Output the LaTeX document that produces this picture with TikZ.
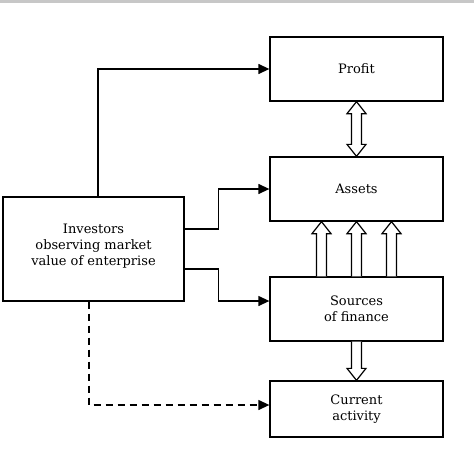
\documentclass[tikz,border=0pt]{standalone}
\usepackage{fontspec}
\setmainfont{DejaVu Serif}
\usetikzlibrary{arrows.meta,calc}
\tikzset{
  box/.style={draw, line width=1.3pt, fill=white, align=center, font=\fontsize{13}{16}\selectfont, inner sep=0pt},
  conn/.style={line width=1.3pt, -{Triangle[length=11pt,width=10pt]}},
  dashconn/.style={conn, dash pattern=on 7pt off 5pt},
  hollow/.style={draw, line width=1.2pt, fill=white, line join=miter}
}
\newcommand\hollowup[3]{% #1 tail anchor, #2 tip anchor, #3 dx
  \draw[hollow] ($(#1)+(#3-5,0)$) -- ($(#2)+(#3-5,12)$) -- ($(#2)+(#3-9.5,12)$) -- ($(#2)+(#3,0)$)
     -- ($(#2)+(#3+9.5,12)$) -- ($(#2)+(#3+5,12)$) -- ($(#1)+(#3+5,0)$);}
\newcommand\hollowdown[3]{% #1 tail anchor, #2 tip anchor, #3 dx
  \draw[hollow] ($(#1)+(#3-5,0)$) -- ($(#2)+(#3-5,-12)$) -- ($(#2)+(#3-9.5,-12)$) -- ($(#2)+(#3,0)$)
     -- ($(#2)+(#3+9.5,-12)$) -- ($(#2)+(#3+5,-12)$) -- ($(#1)+(#3+5,0)$);}
\begin{document}
\begin{tikzpicture}[x=1pt,y=-1pt]
\useasboundingbox (0,0) rectangle (474,474);
\fill[white] (0,0) rectangle (474,474);
\fill[black!22] (0,0) rectangle (474,2.5);
\node[box, minimum width=173pt, minimum height=64pt] (P) at (356.5,69) {Profit};
\node[box, minimum width=173pt, minimum height=64pt] (A) at (356.5,189) {Assets};
\node[box, minimum width=173pt, minimum height=64pt] (S) at (356.5,309) {Sources\\of finance};
\node[box, minimum width=173pt, minimum height=56pt] (C) at (356.5,409) {Current\\activity};
\node[box, minimum width=181pt, minimum height=104pt, text depth=0pt] (I) at (93.5,249) {Investors\\observing market\\value of enterprise\vphantom{g}\\[-8pt]};
% double arrow Profit <-> Assets
\draw[hollow] ($(P.south)+(0,0)$) -- ($(P.south)+(9.5,12)$) -- ($(P.south)+(5,12)$) -- ($(A.north)+(5,-12)$)
  -- ($(A.north)+(9.5,-12)$) -- (A.north) -- ($(A.north)+(-9.5,-12)$) -- ($(A.north)+(-5,-12)$)
  -- ($(P.south)+(-5,12)$) -- ($(P.south)+(-9.5,12)$) -- cycle;
\hollowup{S.north}{A.south}{-35}
\hollowup{S.north}{A.south}{0}
\hollowup{S.north}{A.south}{35}
\hollowdown{S.south}{C.north}{0}
% connectors
\draw[conn] ($(I.north)+(4.5,0)$) |- (P.west);
\draw[conn] ($(I.east)+(0,-20)$) -- ++(34,0) |- (A.west);
\draw[conn] ($(I.east)+(0,20)$) -- ++(34,0) |- ($(S.west)+(0,-8)$);
\draw[dashconn] ($(I.south)+(-4.5,0)$) |- ($(C.west)+(0,-4)$);
\end{tikzpicture}
\end{document}
